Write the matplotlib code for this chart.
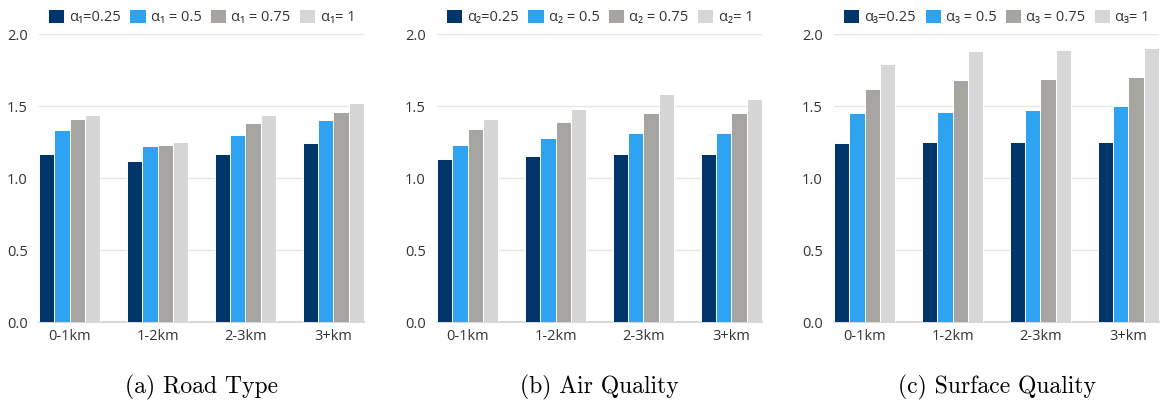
import matplotlib.pyplot as plt
import numpy as np

categories = ["0-1km", "1-2km", "2-3km", "3+km"]
alphas = ["0.25", "0.5", "0.75", "1"]
subs = ["₁", "₂", "₃"]
captions = ["(a) Road Type", "(b) Air Quality", "(c) Surface Quality"]

road_type = [
    [1.17, 1.12, 1.17, 1.24],
    [1.33, 1.22, 1.30, 1.40],
    [1.41, 1.23, 1.38, 1.46],
    [1.44, 1.25, 1.44, 1.52],
]
air_quality = [
    [1.13, 1.15, 1.17, 1.17],
    [1.23, 1.28, 1.31, 1.31],
    [1.34, 1.39, 1.45, 1.45],
    [1.41, 1.48, 1.58, 1.55],
]
surface_quality = [
    [1.24, 1.25, 1.25, 1.25],
    [1.45, 1.46, 1.47, 1.50],
    [1.62, 1.68, 1.69, 1.70],
    [1.79, 1.88, 1.89, 1.90],
]
panels = [road_type, air_quality, surface_quality]

colors = ["#00366b", "#2ea3f2", "#a6a5a1", "#d6d6d6"]
font = ["Open Sans", "DejaVu Sans"]
text_color = "#333333"

fig = plt.figure(figsize=(11.6, 4.03), dpi=100)
lefts = [39, 437, 834]
width_px = 325
bottom = 1 - 322 / 403
height = (322 - 34) / 403

x = np.arange(len(categories))
bw = 0.174
for i, data in enumerate(panels):
    ax = fig.add_axes([lefts[i] / 1160, bottom, width_px / 1160, height])
    for j, vals in enumerate(data):
        if j == 0:
            label = f"α{subs[i]}={alphas[j]}"
        elif j == 3:
            label = f"α{subs[i]}= {alphas[j]}"
        else:
            label = f"α{subs[i]} = {alphas[j]}"
        ax.bar(x + (j - 1.5) * bw, vals, bw, color=colors[j], edgecolor="white",
               linewidth=0.7, label=label, zorder=3)
    ax.set_ylim(0, 2.0)
    ax.set_xlim(-2 * bw, len(categories) - 1 + 2 * bw)
    ax.set_yticks([0, 0.5, 1.0, 1.5, 2.0])
    ax.set_yticklabels(["0.0", "0.5", "1.0", "1.5", "2.0"])
    ax.set_xticks(x)
    ax.set_xticklabels(categories)
    ax.grid(axis="y", color="#e6e6e6", linewidth=1.0, zorder=0)
    for side in ["top", "right", "left"]:
        ax.spines[side].set_visible(False)
    ax.spines["bottom"].set_color("#d9d9d9")
    ax.spines["bottom"].set_linewidth(1.5)
    ax.tick_params(length=0, labelsize=10.5, colors=text_color)
    ax.tick_params(axis="y", pad=8)
    ax.tick_params(axis="x", pad=5)
    for t in ax.get_xticklabels() + ax.get_yticklabels():
        t.set_family(font)
    leg = ax.legend(loc="lower center", bbox_to_anchor=(0.5, 1.005), ncol=4, frameon=False,
                    prop={"family": font, "size": 10.5}, handlelength=1.1, handleheight=1.1,
                    handletextpad=0.35, columnspacing=0.6, borderaxespad=0.1)
    for t in leg.get_texts():
        t.set_color(text_color)
    cx = (lefts[i] + width_px / 2) / 1160
    fig.text(cx, 1 - 387 / 403, captions[i], ha="center", va="center",
             family="cmr10", fontsize=17)

fig.savefig("out.png", dpi=100)
